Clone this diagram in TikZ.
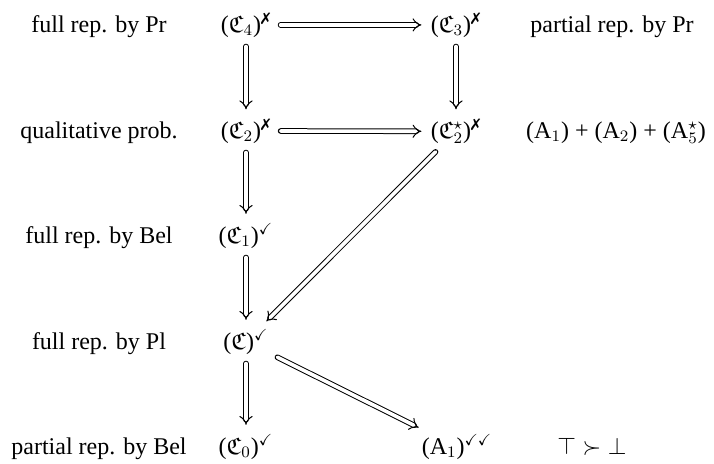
\documentclass[tikz,border=0pt]{standalone}
\usepackage{amsmath,amssymb}
\usepackage{pifont}
\usepackage{fontspec}
\setmainfont{Liberation Serif}
\usetikzlibrary{arrows.meta}

\newcommand{\nok}{\ensuremath{^{\text{\ding{55}}}}}
\newcommand{\yes}{\ensuremath{^{\checkmark}}}
\newcommand{\fC}[1]{\ensuremath{\mathfrak{C}_{#1}}}

\begin{document}
\begin{tikzpicture}[
  x=0.5pt, y=-0.5pt,
  line cap=round, line join=round,
  every node/.style={font=\fontsize{12}{14}\selectfont, inner sep=2pt, anchor=base},
  imp/.style={double, double distance=1.8pt, line width=0.5pt, -{Implies},
    shorten >=2.5pt, shorten <=2.5pt},
]
\useasboundingbox (0,0) rectangle (714,463);
% row labels
\node (l4) at (99,32) {full rep. by Pr};
\node (l2) at (99,138) {qualitative prob.};
\node (l1) at (99,243) {full rep. by Bel};
\node (l) at (99,349) {full rep. by Pl};
\node (l0) at (99,454) {partial rep. by Bel};
% conditions
\node (c4) at (246,32) {(\fC{4})\nok};
\node (c3) at (456,32) {(\fC{3})\nok};
\node (c2) at (246,138) {(\fC{2})\nok};
\node (c2s) at (456,138) {(\(\mathfrak{C}_2^\star\))\nok};
\node (c1) at (246,243) {(\fC{1})\yes};
\node (c) at (246,349) {(\(\mathfrak{C}\))\yes};
\node (c0) at (246,454) {(\fC{0})\yes};
\node (a1) at (457,454) {(A\(_1\))\(^{\checkmark\checkmark}\)};
% right side
\node (r3) at (612,32) {partial rep. by Pr};
\node (ax) at (616,138) {(A\(_1\)) + (A\(_2\)) + (A\(_5^\star\))};
\node (tb) at (592,454) {\(\top\succ\bot\)};
% implications
\draw[imp] (c4) -- (c3);
\draw[imp] (c2) -- (c2s);
\draw[imp] (c4) -- (c2);
\draw[imp] (c3) -- (c2s);
\draw[imp] (c2) -- (c1);
\draw[imp] (c1) -- (c);
\draw[imp] (c2s) -- (c);
\draw[imp] (c) -- (c0);
\draw[imp] (c) -- (a1);
\end{tikzpicture}
\end{document}
